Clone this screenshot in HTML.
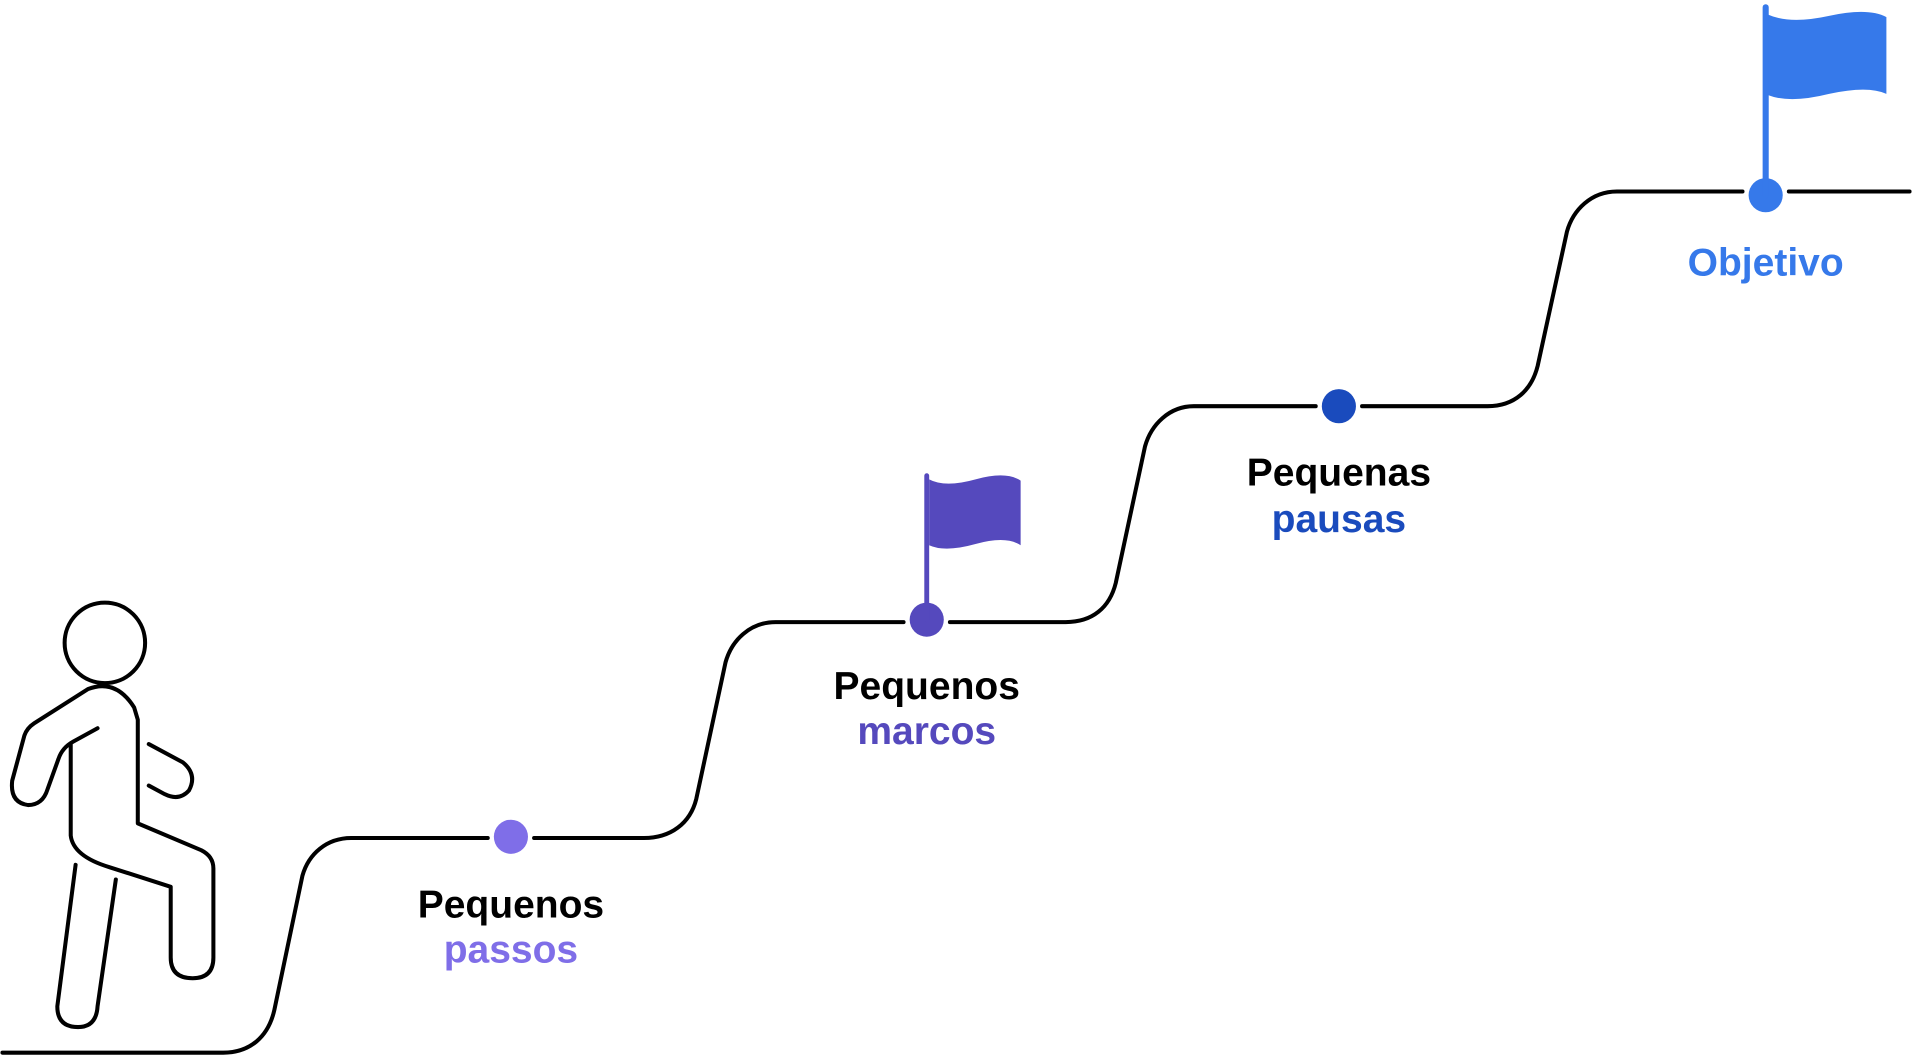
<!DOCTYPE html>
<html><head><meta charset="utf-8"><style>
html,body{margin:0;padding:0;background:#fff;width:1912px;height:1060px;overflow:hidden}
svg{display:block}
text{font-family:"Liberation Sans",sans-serif;font-weight:bold;font-size:32px;text-anchor:middle}
</style></head><body>
<svg width="1912" height="1060" viewBox="0 0 1568 869" preserveAspectRatio="none">
<g fill="none" stroke="#000" stroke-width="3.3" stroke-linecap="round" stroke-linejoin="round">
<path d="M2,863 L183,863 C205,863 220,850 225,828 L248,718 C253,700 268,687 288,687 L400,687"/>
<path d="M438,687 L528,687 C550,687 566,675 571,655 L595,543 C600,525 615,510 636,510 L741,510"/>
<path d="M779,510 L874,510 C896,510 910,498 915,478 L939,366 C944,348 959,333 979,333 L1079,333"/>
<path d="M1117,333 L1220,333 C1242,333 1256,320 1261,300 L1285,190 C1290,172 1305,157 1326,157 L1429,157"/>
<path d="M1467,157 L1566,157"/>
<circle cx="86" cy="527" r="33"/>
<path d="M80,597 L60,608 Q51,613 48,622 L39,647 Q35,660 23,660 Q8,658 10,640 L20,603 Q22,597 28,593 L72,565 Q95,556 110,580 L113,590 L113,675 L165,697 Q175,702 175,712 L175,785 Q175,802 158,802 Q140,802 140,785 L140,727 L90,711 Q60,702 58,685 L58,610"/>
<path d="M122,610 L150,625 Q162,635 155,648 Q147,657 135,651 L122,644"/>
<path d="M62,709 L47,825 Q47,842 64,842 Q79,842 80,825 L95,721"/>
</g>
<circle cx="419" cy="686" r="14" fill="#7F6EE8"/>
<circle cx="760" cy="508" r="14" fill="#5549BD"/>
<line x1="760" y1="390" x2="760" y2="508" stroke="#5549BD" stroke-width="4" stroke-linecap="round"/>
<path d="M762,393 Q775,400 800,393 Q825,386 837,394 L837,447 Q825,439 800,446 Q775,453 762,447 Z" fill="#5549BD"/>
<circle cx="1098" cy="333" r="14" fill="#1A4BBD"/>
<circle cx="1448" cy="160" r="14" fill="#3679EA"/>
<line x1="1448" y1="6" x2="1448" y2="160" stroke="#3679EA" stroke-width="5" stroke-linecap="round"/>
<path d="M1450,12 Q1468,20 1500,13 Q1532,6 1547,14 L1547,77 Q1532,70 1500,77 Q1468,85 1450,78 Z" fill="#3679EA"/>
<text x="419" y="752" fill="#000">Pequenos</text>
<text x="419" y="789" fill="#7F6EE8">passos</text>
<text x="760" y="573" fill="#000">Pequenos</text>
<text x="760" y="610" fill="#5549BD">marcos</text>
<text x="1098" y="398" fill="#000">Pequenas</text>
<text x="1098" y="436" fill="#1A4BBD">pausas</text>
<text x="1448" y="226" fill="#3679EA">Objetivo</text>
</svg>
</body></html>
